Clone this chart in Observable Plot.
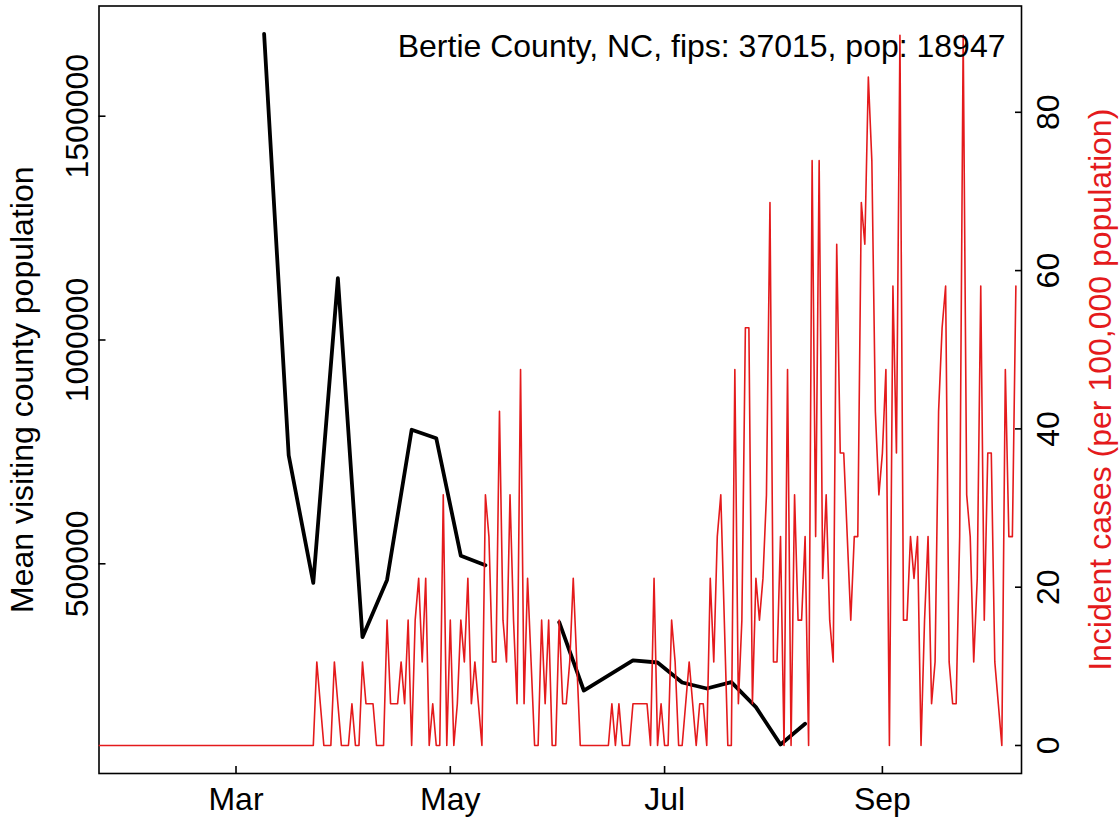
<!DOCTYPE html>
<html>
<head>
<meta charset="utf-8">
<script src="https://cdn.jsdelivr.net/npm/d3@7"></script>
<script src="https://cdn.jsdelivr.net/npm/@observablehq/plot@0.6"></script>
<style>
  body { margin: 0; background: #ffffff; }
  #chart { position: relative; width: 1119px; height: 822px; }
  #chart svg { position: absolute; left: 0; top: 0; overflow: visible; }
</style>
</head>
<body>
<div id="chart"></div>
<script>
// ---------------- data ----------------
const countyLabel = "Bertie County, NC, fips: 37015, pop: 18947";
const population = 18947;
const seriesStart = "2020-01-22";

// daily new cases (counts), one per day from 2020-01-22
const dailyCases = [
  0,0,0,0,0,0,0,0,0,0, 0,0,0,0,0,0,0,0,0,0,
  0,0,0,0,0,0,0,0,0,0, 0,0,0,0,0,0,0,0,0,0,
  0,0,0,0,0,0,0,0,0,0, 0,0,0,0,0,0,0,0,0,0,
  0,0,
  2,1,0,0,0,2,1,0,0,0, 1,0,0,2,1,1,1,0,0,0,
  3,1,1,1,2,1,3,0,3,4, 2,4,0,1,0,0,6,0,3,0,
  1,3,2,4,1,2,1,0,6,5, 2,2,8,3,2,6,3,1,9,1,
  4,2,0,0,3,1,3,0,0,3, 1,1,2,4,2,0,0,0,0,0,
  0,0,0,0,1,0,1,0,0,0, 1,1,1,1,1,0,4,0,1,0,
  0,3,2,0,0,1,2,1,0,1, 1,0,4,2,5,6,3,0,0,9,
  1,3,10,10,1,4,3,4,6,13, 2,2,5,0,9,0,6,3,3,5,
  0,14,5,14,4,6,3,2,12,7, 7,5,3,5,5,13,12,16,14,8,
  6,7,9,0,11,7,17,3,3,5, 4,5,0,3,5,1,2,8,10,11,
  2,1,1,5,17,6,5,2,4,11, 3,7,7,2,1,0,9,5,5,11
];

// weekly mean visiting county population
const visitWeeks = [
  "2020-03-09","2020-03-16","2020-03-23","2020-03-30","2020-04-06",
  "2020-04-13","2020-04-20","2020-04-27","2020-05-04","2020-05-11",
  "2020-05-18","2020-05-25","2020-06-01","2020-06-08","2020-06-22",
  "2020-06-29","2020-07-06","2020-07-13","2020-07-20","2020-07-27",
  "2020-08-03","2020-08-10"
];
const visitMean = [
  1684000, 742000, 457500, 1138000, 336000,
  464000, 799400, 780600, 517900, 496900,
  null, null, 369500, 216900, 284000,
  279500, 234800, 221400, 235700, 179800,
  96300, 142500
];

const xTickDates = ["2020-03-01","2020-05-01","2020-07-01","2020-09-01"];
const xTickLabels = ["Mar","May","Jul","Sep"];
const leftTicks = [500000, 1000000, 1500000];
const rightTicks = [0, 20, 40, 60, 80];

// ---------------- build ----------------
const W = 1119, H = 822;
const M = {left: 98.5, right: 98, top: 5.5, bottom: 49};
const FONT = 32;
const RED = "#E41A1C";
const family = "'Liberation Sans', Arial, Helvetica, sans-serif";

const start = new Date(seriesStart + "T00:00:00Z");
const caseRows = dailyCases.map((k, i) => ({
  date: d3.utcDay.offset(start, i),
  rate: k / population * 100000
}));
const visitRows = visitWeeks.map((w, i) => ({
  date: new Date(w + "T00:00:00Z"),
  value: visitMean[i]
}));
const xTicks = xTickDates.map(d => new Date(d + "T00:00:00Z"));
const labelByTime = new Map(xTicks.map((d, i) => [+d, xTickLabels[i]]));

const xDomain = [start, new Date(+start + 262.6 * 864e5)];

const common = {
  width: W, height: H,
  marginLeft: M.left, marginRight: M.right, marginTop: M.top, marginBottom: M.bottom
};

// bottom layer: black series, left axis, x axis, frame
const plotA = Plot.plot({
  ...common,
  style: {fontFamily: family, fontSize: FONT + "px", background: "white", color: "black"},
  x: {type: "utc", domain: xDomain, label: null},
  y: {domain: [31500, 1746200], label: null},
  marks: [
    Plot.frame({stroke: "black", strokeWidth: 1.6}),
    Plot.axisX(xTicks, {tickSize: -7, strokeWidth: 1.6, tickFormat: () => "", label: null}),
    Plot.axisX(xTicks, {tickSize: 0, tickPadding: 13.7, fontSize: FONT, label: null,
      tickFormat: d => labelByTime.get(+d)}),
    Plot.axisY(leftTicks, {anchor: "left", tickSize: -7, strokeWidth: 1.6, tickFormat: () => "", label: null}),
    Plot.axisY(leftTicks, {anchor: "left", tickSize: 0, tickPadding: 11, tickRotate: -90,
      textAnchor: "middle", lineAnchor: "bottom", fontSize: FONT, label: null,
      tickFormat: d => String(d)}),
    Plot.text(["Mean visiting county population"], {
      frameAnchor: "left", rotate: -90, textAnchor: "middle", lineAnchor: "bottom",
      dx: -66.5, fontSize: FONT, fill: "black"}),
    Plot.line(visitRows, {x: "date", y: "value", stroke: "black", strokeWidth: 3.8,
      strokeLinejoin: "round", strokeLinecap: "round"})
  ]
});

// top layer: red series, right axis, title text
const plotB = Plot.plot({
  ...common,
  style: {fontFamily: family, fontSize: FONT + "px", background: "transparent", color: "black"},
  x: {type: "utc", domain: xDomain, axis: null, label: null},
  y: {domain: [-3.54, 93.43], label: null},
  marks: [
    Plot.line(caseRows, {x: "date", y: "rate", stroke: RED, strokeWidth: 1.6,
      strokeLinejoin: "round", clip: true}),
    Plot.axisY(rightTicks, {anchor: "right", tickSize: -7, strokeWidth: 1.6, tickFormat: () => "", label: null}),
    Plot.axisY(rightTicks, {anchor: "right", tickSize: 0, tickPadding: 37, tickRotate: -90,
      textAnchor: "middle", lineAnchor: "bottom", fontSize: FONT, label: null,
      tickFormat: d => String(d)}),
    Plot.text(["Incident cases (per 100,000 population)"], {
      frameAnchor: "right", rotate: -90, textAnchor: "middle", lineAnchor: "bottom",
      dx: 89, fontSize: FONT, fill: RED}),
    Plot.text([countyLabel], {
      frameAnchor: "top-right", textAnchor: "end", lineAnchor: "bottom",
      dx: -16, dy: 50.5, fontSize: FONT, fill: "black"})
  ]
});

const chart = document.getElementById("chart");
chart.appendChild(plotA);
chart.appendChild(plotB);
</script>
</body>
</html>
